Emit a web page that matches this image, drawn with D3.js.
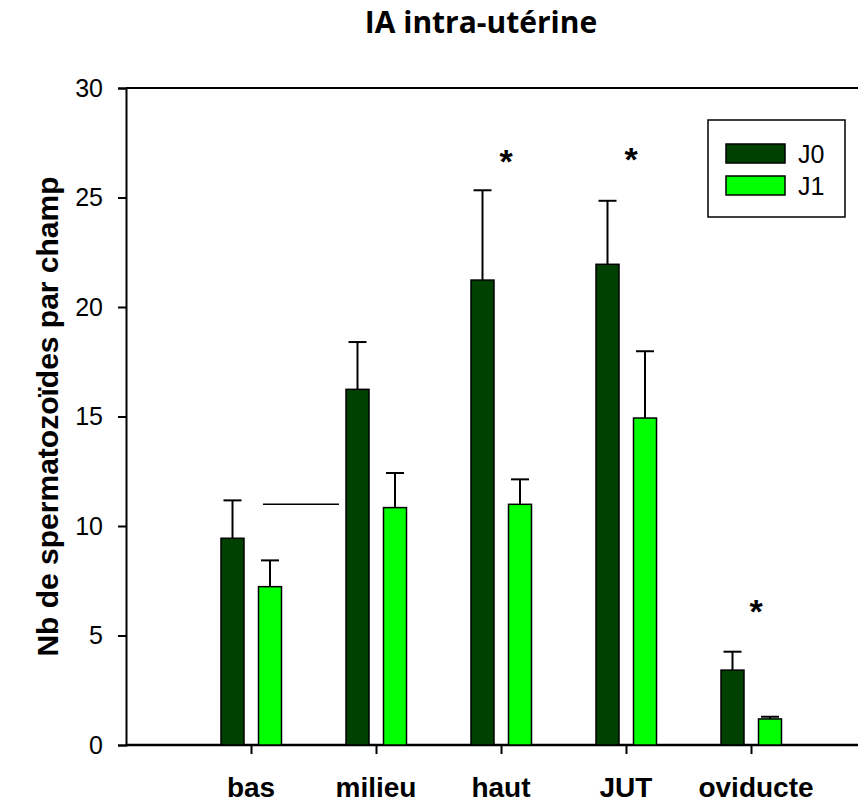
<!DOCTYPE html>
<html>
<head>
<meta charset="utf-8">
<script src="https://cdn.jsdelivr.net/npm/d3@7"></script>
<style>
  body { margin: 0; background: #fff; }
  text { font-family: Arial, "Liberation Sans", sans-serif; }
</style>
</head>
<body>
<svg id="chart" width="859" height="805"></svg>
<script>
// chart data
const categories = ["bas", "milieu", "haut", "JUT", "oviducte"];
const seriesNames = ["J0", "J1"];
const j0Values = [9.44, 16.24, 21.23, 21.95, 3.42];
const j0Errors = [1.73, 2.16, 4.10, 2.90, 0.84];
const j1Values = [7.23, 10.84, 10.99, 14.93, 1.19];
const j1Errors = [1.20, 1.58, 1.14, 3.05, 0.10];
const starCategories = ["haut", "JUT", "oviducte"];
const starValues = [26.99, 27.06, 6.45];
const yTicks = [0, 5, 10, 15, 20, 25, 30];
// stray horizontal line left in the original figure
const strayLine = { from: 1.096, to: 1.704, value: 10.99 };

const colors = { J0: "#004000", J1: "#00ff00" };

const svg = d3.select("#chart");
const plotLeft = 126, plotRight = 858, plotTop = 88, plotBottom = 745;

// category positions: 1..5 on a linear axis that starts at 0
const x = d3.scaleLinear().domain([0, 5.856]).range([plotLeft, plotRight]);
const y = d3.scaleLinear().domain([0, 30]).range([plotBottom, plotTop]);
const pos = c => categories.indexOf(c) + 1;

const barW = 23;
const offsets = { J0: -30, J1: 7.5 };

// title
svg.append("text")
  .attr("x", 481).attr("y", 33)
  .attr("text-anchor", "middle")
  .style("font-family", "'Open Sans', sans-serif")
  .style("font-weight", "bold")
  .style("font-size", "30px")
  .text("IA intra-utérine");

// frame top line
svg.append("line")
  .attr("x1", plotLeft).attr("x2", plotRight)
  .attr("y1", y(30)).attr("y2", y(30))
  .attr("stroke", "#000").attr("stroke-width", 2);

// y axis
const yAxis = svg.append("g")
  .attr("transform", `translate(${plotLeft},0)`)
  .call(d3.axisLeft(y).tickValues(yTicks).tickSize(8).tickPadding(15));
yAxis.select(".domain").attr("stroke-width", 2);
yAxis.selectAll(".tick line").attr("stroke-width", 2);
yAxis.selectAll("text").style("font-size", "25px").attr("fill", "#000");

// x axis
const xAxis = svg.append("g")
  .attr("transform", `translate(0,${plotBottom})`)
  .call(d3.axisBottom(x).tickValues(categories.map(pos)).tickSize(9).tickFormat(""));
xAxis.select(".domain").attr("stroke-width", 2.5).attr("d", `M${plotLeft},0H${plotRight}`);
xAxis.selectAll(".tick line").attr("stroke-width", 2);

// category labels
svg.append("g").selectAll("text")
  .data(categories).enter().append("text")
  .attr("x", d => x(pos(d)) + (d === "oviducte" ? 5 : 0))
  .attr("y", 797)
  .attr("text-anchor", "middle")
  .style("font-weight", "bold")
  .style("font-size", "28px")
  .text(d => d);

// y label
svg.append("text")
  .attr("transform", `translate(58,${(plotTop + plotBottom) / 2}) rotate(-90)`)
  .attr("text-anchor", "middle")
  .style("font-weight", "bold")
  .style("font-size", "30px")
  .text("Nb de spermatozoïdes par champ");

// bars with error bars
const series = [
  { name: "J0", values: j0Values, errors: j0Errors },
  { name: "J1", values: j1Values, errors: j1Errors }
];

series.forEach(s => {
  const data = categories.map((c, i) => ({ c, v: s.values[i], e: s.errors[i] }));
  const g = svg.append("g");
  const cx = d => x(pos(d.c)) + offsets[s.name] + barW / 2;

  g.selectAll("line.err").data(data).enter().append("line")
    .attr("x1", cx).attr("x2", cx)
    .attr("y1", d => y(d.v)).attr("y2", d => y(d.v + d.e))
    .attr("stroke", "#000").attr("stroke-width", 2);
  g.selectAll("line.cap").data(data).enter().append("line")
    .attr("x1", d => cx(d) - 9).attr("x2", d => cx(d) + 9)
    .attr("y1", d => y(d.v + d.e)).attr("y2", d => y(d.v + d.e))
    .attr("stroke", "#000").attr("stroke-width", 2);

  g.selectAll("rect").data(data).enter().append("rect")
    .attr("x", d => x(pos(d.c)) + offsets[s.name])
    .attr("y", d => y(d.v))
    .attr("width", barW)
    .attr("height", d => y(0) - y(d.v))
    .attr("fill", colors[s.name])
    .attr("stroke", "#000").attr("stroke-width", 1.5);
});

// stray line
svg.append("line")
  .attr("x1", x(strayLine.from)).attr("x2", x(strayLine.to))
  .attr("y1", y(strayLine.value)).attr("y2", y(strayLine.value))
  .attr("stroke", "#000").attr("stroke-width", 1.5);

// significance stars
svg.append("g").selectAll("text")
  .data(starCategories).enter().append("text")
  .attr("x", d => x(pos(d)) + 5)
  .attr("y", (d, i) => y(starValues[i]) + 19)
  .attr("text-anchor", "middle")
  .style("font-weight", "bold")
  .style("font-size", "34px")
  .text("*");

// legend
const legend = svg.append("g").attr("transform", "translate(708,120)");
legend.append("rect")
  .attr("width", 137).attr("height", 97)
  .attr("fill", "#fff").attr("stroke", "#000").attr("stroke-width", 1.5);
seriesNames.forEach((n, i) => {
  legend.append("rect")
    .attr("x", 18).attr("y", 24 + i * 32)
    .attr("width", 59).attr("height", 19)
    .attr("fill", colors[n]).attr("stroke", "#000").attr("stroke-width", 1.5);
  legend.append("text")
    .attr("x", 90).attr("y", 43 + i * 32)
    .style("font-size", "25px")
    .text(n);
});
</script>
</body>
</html>
